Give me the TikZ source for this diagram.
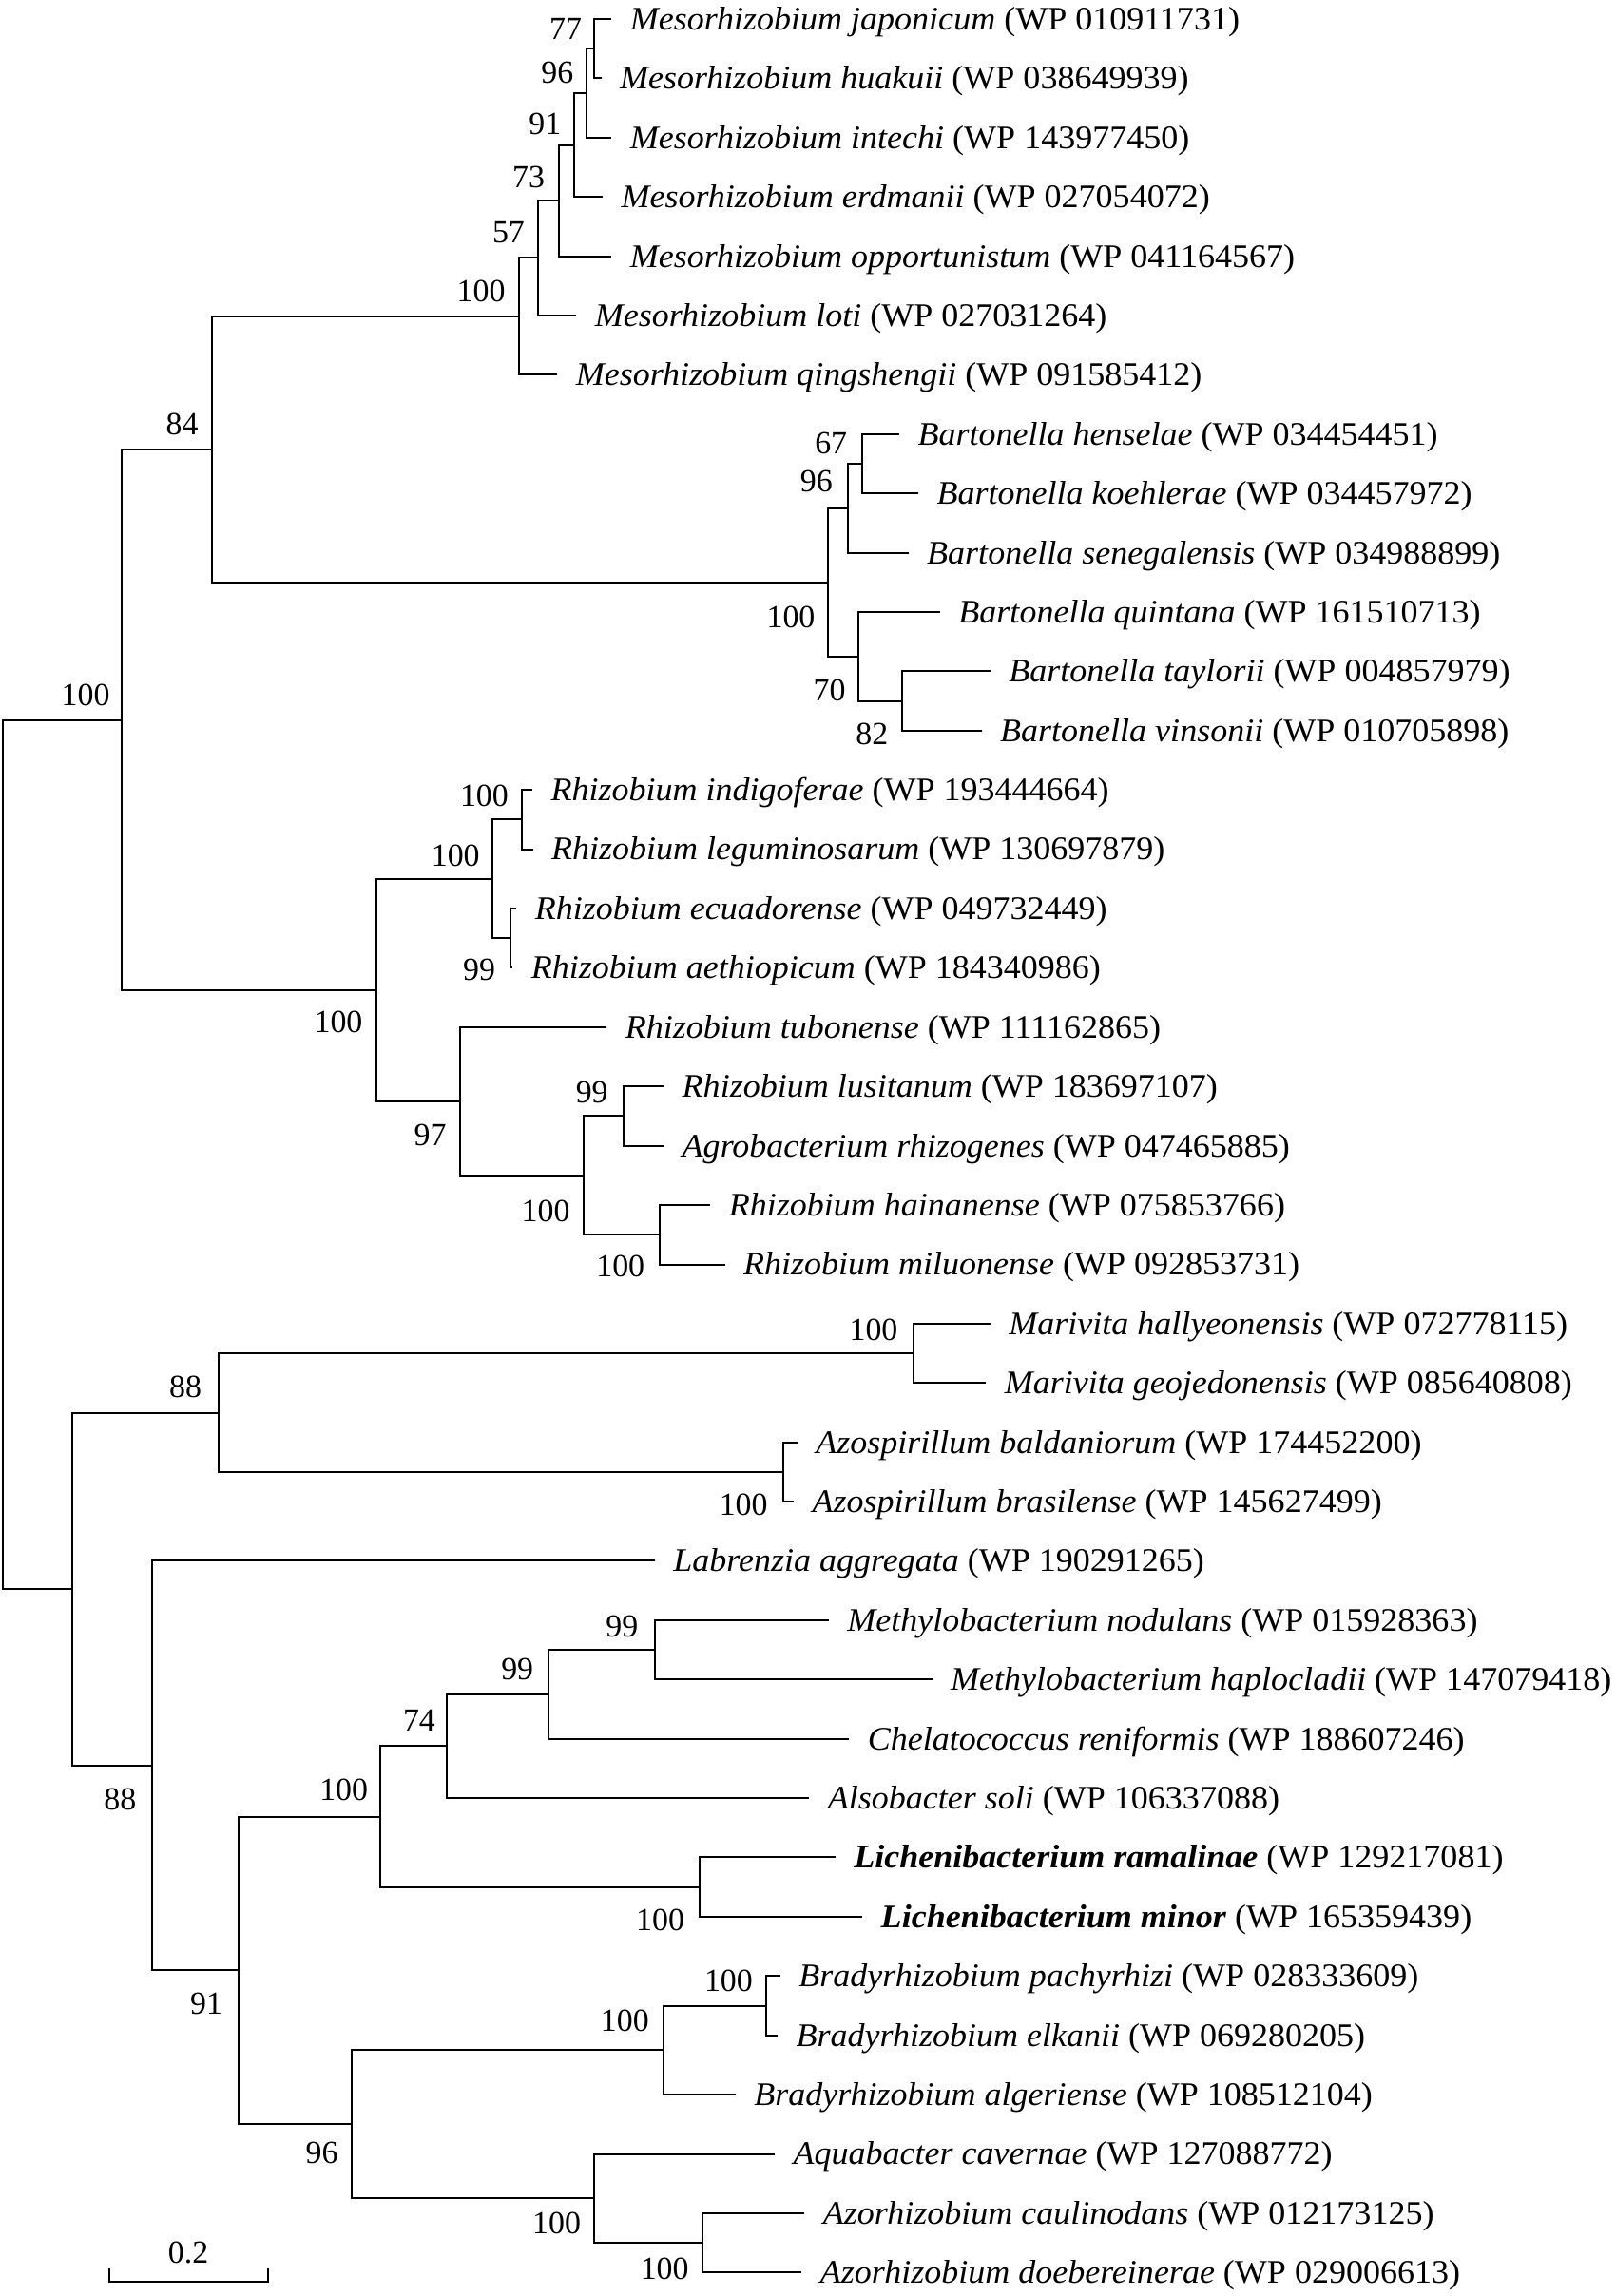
\documentclass[tikz,border=0pt]{standalone}
\usepackage{fontspec}
\setmainfont{Liberation Serif}
\newfontfamily\taxafont{Liberation Serif}[FakeStretch=1.04]

\begin{document}
\begin{tikzpicture}[x=0.5pt, y=-0.5pt, line width=0.65pt,
    taxon/.style={anchor=base west, inner sep=0pt, font=\taxafont\fontsize{11.25}{13}\selectfont},
    boot/.style={anchor=center, inner sep=0pt, font=\fontsize{11}{13}\selectfont}]
      \useasboundingbox (0,0) rectangle (1104,1569.8);

      % leaf ends
      \coordinate (l0) at (418, 13.0);
      \coordinate (l1) at (411, 53.5);
      \coordinate (l2) at (418, 94.1);
      \coordinate (l3) at (412, 134.6);
      \coordinate (l4) at (418, 175.2);
      \coordinate (l5) at (394, 215.7);
      \coordinate (l6) at (381, 256.3);
      \coordinate (l7) at (614.7, 296.8);
      \coordinate (l8) at (627.7, 337.4);
      \coordinate (l9) at (621, 377.9);
      \coordinate (l10) at (642.6, 418.5);
      \coordinate (l11) at (677, 459.0);
      \coordinate (l12) at (671, 499.6);
      \coordinate (l13) at (363.9, 540.1);
      \coordinate (l14) at (364.3, 580.6);
      \coordinate (l15) at (353.1, 621.2);
      \coordinate (l16) at (350.4, 661.7);
      \coordinate (l17) at (414.8, 702.3);
      \coordinate (l18) at (453.7, 742.8);
      \coordinate (l19) at (453.7, 783.4);
      \coordinate (l20) at (485.6, 823.9);
      \coordinate (l21) at (495.5, 864.5);
      \coordinate (l22) at (677, 905.0);
      \coordinate (l23) at (674, 945.6);
      \coordinate (l24) at (545, 986.1);
      \coordinate (l25) at (542.6, 1026.7);
      \coordinate (l26) at (447.6, 1067.2);
      \coordinate (l27) at (566.5, 1107.7);
      \coordinate (l28) at (637.2, 1148.3);
      \coordinate (l29) at (580.5, 1188.8);
      \coordinate (l30) at (553.2, 1229.4);
      \coordinate (l31) at (571, 1269.9);
      \coordinate (l32) at (589.5, 1310.5);
      \coordinate (l33) at (533.4, 1351.0);
      \coordinate (l34) at (531.6, 1391.6);
      \coordinate (l35) at (502.8, 1432.1);
      \coordinate (l36) at (529.6, 1472.7);
      \coordinate (l37) at (550, 1513.2);
      \coordinate (l38) at (548, 1553.7);

      % inner nodes
      \coordinate (m77) at (406, 33.25);
      \coordinate (m96) at (401, 63.7);
      \coordinate (m91) at (392.5, 99.1);
      \coordinate (m73) at (382, 137.2);
      \coordinate (m57) at (368, 176.4);
      \coordinate (mes) at (355, 216.4);
      \coordinate (b67) at (589, 317.1);
      \coordinate (b96) at (579.6, 347.5);
      \coordinate (b82) at (616.6, 479.3);
      \coordinate (b70) at (586.6, 448.9);
      \coordinate (bar) at (566, 398.2);
      \coordinate (mb) at (145.2, 307.3);
      \coordinate (rc) at (356.7, 560.4);
      \coordinate (r99) at (349.1, 641.5);
      \coordinate (rab) at (336.8, 601);
      \coordinate (re) at (451.1, 844.2);
      \coordinate (rl) at (426.2, 763.1);
      \coordinate (rd) at (399, 803.7);
      \coordinate (r97) at (314.5, 753);
      \coordinate (rhi) at (257.1, 677);
      \coordinate (up) at (83.4, 492.2);
      \coordinate (mar) at (624.5, 925.3);
      \coordinate (azo) at (535.6, 1006.4);
      \coordinate (ma) at (149.5, 965.85);
      \coordinate (met) at (447.6, 1128.0);
      \coordinate (mc) at (374.9, 1158.4);
      \coordinate (mca) at (305.1, 1193.9);
      \coordinate (lic) at (478.2, 1290.2);
      \coordinate (mcl) at (260, 1242.05);
      \coordinate (bra) at (524, 1371.3);
      \coordinate (brad) at (453.2, 1401.7);
      \coordinate (azr) at (480.4, 1533.45);
      \coordinate (aqa) at (405.8, 1503.1);
      \coordinate (bq) at (240.6, 1452.4);
      \coordinate (low) at (163.4, 1347.2);
      \coordinate (lab) at (103.7, 1207.2);
      \coordinate (dn) at (49.4, 1086.5);
      \coordinate (root) at (1.7, 789.35);

      % branches
      \draw (m77) |- (l0);
      \draw (m77) |- (l1);
      \draw (m96) |- (m77);
      \draw (m96) |- (l2);
      \draw (m91) |- (m96);
      \draw (m91) |- (l3);
      \draw (m73) |- (m91);
      \draw (m73) |- (l4);
      \draw (m57) |- (m73);
      \draw (m57) |- (l5);
      \draw (mes) |- (m57);
      \draw (mes) |- (l6);

      \draw (b67) |- (l7);
      \draw (b67) |- (l8);
      \draw (b96) |- (b67);
      \draw (b96) |- (l9);
      \draw (b82) |- (l11);
      \draw (b82) |- (l12);
      \draw (b70) |- (l10);
      \draw (b70) |- (b82);
      \draw (bar) |- (b96);
      \draw (bar) |- (b70);
      \draw (mb) |- (mes);
      \draw (mb) |- (bar);

      \draw (rc) |- (l13);
      \draw (rc) |- (l14);
      \draw (r99) |- (l15);
      \draw (r99) |- (l16);
      \draw (rab) |- (rc);
      \draw (rab) |- (r99);
      \draw (rl) |- (l18);
      \draw (rl) |- (l19);
      \draw (re) |- (l20);
      \draw (re) |- (l21);
      \draw (rd) |- (rl);
      \draw (rd) |- (re);
      \draw (r97) |- (l17);
      \draw (r97) |- (rd);
      \draw (rhi) |- (rab);
      \draw (rhi) |- (r97);
      \draw (up) |- (mb);
      \draw (up) |- (rhi);

      \draw (mar) |- (l22);
      \draw (mar) |- (l23);
      \draw (azo) |- (l24);
      \draw (azo) |- (l25);
      \draw (ma) |- (mar);
      \draw (ma) |- (azo);

      \draw (met) |- (l27);
      \draw (met) |- (l28);
      \draw (mc) |- (met);
      \draw (mc) |- (l29);
      \draw (mca) |- (mc);
      \draw (mca) |- (l30);
      \draw (lic) |- (l31);
      \draw (lic) |- (l32);
      \draw (mcl) |- (mca);
      \draw (mcl) |- (lic);
      \draw (bra) |- (l33);
      \draw (bra) |- (l34);
      \draw (brad) |- (bra);
      \draw (brad) |- (l35);
      \draw (azr) |- (l37);
      \draw (azr) |- (l38);
      \draw (aqa) |- (l36);
      \draw (aqa) |- (azr);
      \draw (bq) |- (brad);
      \draw (bq) |- (aqa);
      \draw (low) |- (mcl);
      \draw (low) |- (bq);
      \draw (lab) |- (l26);
      \draw (lab) |- (low);
      \draw (dn) |- (ma);
      \draw (dn) |- (lab);
      \draw (root) |- (up);
      \draw (root) |- (dn);

      % taxa
      \node[taxon] (t0) at ([xshift=6pt, yshift=-3.7pt]l0) {\textit{Mesorhizobium japonicum} (WP 010911731)};
      \node[taxon] (t1) at ([xshift=6pt, yshift=-3.7pt]l1) {\textit{Mesorhizobium huakuii} (WP 038649939)};
      \node[taxon] (t2) at ([xshift=6pt, yshift=-3.7pt]l2) {\textit{Mesorhizobium intechi} (WP 143977450)};
      \node[taxon] (t3) at ([xshift=6pt, yshift=-3.7pt]l3) {\textit{Mesorhizobium erdmanii} (WP 027054072)};
      \node[taxon] (t4) at ([xshift=6pt, yshift=-3.7pt]l4) {\textit{Mesorhizobium opportunistum} (WP 041164567)};
      \node[taxon] (t5) at ([xshift=6pt, yshift=-3.7pt]l5) {\textit{Mesorhizobium loti} (WP 027031264)};
      \node[taxon] (t6) at ([xshift=6pt, yshift=-3.7pt]l6) {\textit{Mesorhizobium qingshengii} (WP 091585412)};
      \node[taxon] (t7) at ([xshift=6pt, yshift=-3.7pt]l7) {\textit{Bartonella henselae} (WP 034454451)};
      \node[taxon] (t8) at ([xshift=6pt, yshift=-3.7pt]l8) {\textit{Bartonella koehlerae} (WP 034457972)};
      \node[taxon] (t9) at ([xshift=6pt, yshift=-3.7pt]l9) {\textit{Bartonella senegalensis} (WP 034988899)};
      \node[taxon] (t10) at ([xshift=6pt, yshift=-3.7pt]l10) {\textit{Bartonella quintana} (WP 161510713)};
      \node[taxon] (t11) at ([xshift=6pt, yshift=-3.7pt]l11) {\textit{Bartonella taylorii} (WP 004857979)};
      \node[taxon] (t12) at ([xshift=6pt, yshift=-3.7pt]l12) {\textit{Bartonella vinsonii} (WP 010705898)};
      \node[taxon] (t13) at ([xshift=6pt, yshift=-3.7pt]l13) {\textit{Rhizobium indigoferae} (WP 193444664)};
      \node[taxon] (t14) at ([xshift=6pt, yshift=-3.7pt]l14) {\textit{Rhizobium leguminosarum} (WP 130697879)};
      \node[taxon] (t15) at ([xshift=6pt, yshift=-3.7pt]l15) {\textit{Rhizobium ecuadorense} (WP 049732449)};
      \node[taxon] (t16) at ([xshift=6pt, yshift=-3.7pt]l16) {\textit{Rhizobium aethiopicum} (WP 184340986)};
      \node[taxon] (t17) at ([xshift=6pt, yshift=-3.7pt]l17) {\textit{Rhizobium tubonense} (WP 111162865)};
      \node[taxon] (t18) at ([xshift=6pt, yshift=-3.7pt]l18) {\textit{Rhizobium lusitanum} (WP 183697107)};
      \node[taxon] (t19) at ([xshift=6pt, yshift=-3.7pt]l19) {\textit{Agrobacterium rhizogenes} (WP 047465885)};
      \node[taxon] (t20) at ([xshift=6pt, yshift=-3.7pt]l20) {\textit{Rhizobium hainanense} (WP 075853766)};
      \node[taxon] (t21) at ([xshift=6pt, yshift=-3.7pt]l21) {\textit{Rhizobium miluonense} (WP 092853731)};
      \node[taxon] (t22) at ([xshift=6pt, yshift=-3.7pt]l22) {\textit{Marivita hallyeonensis} (WP 072778115)};
      \node[taxon] (t23) at ([xshift=6pt, yshift=-3.7pt]l23) {\textit{Marivita geojedonensis} (WP 085640808)};
      \node[taxon] (t24) at ([xshift=6pt, yshift=-3.7pt]l24) {\textit{Azospirillum baldaniorum} (WP 174452200)};
      \node[taxon] (t25) at ([xshift=6pt, yshift=-3.7pt]l25) {\textit{Azospirillum brasilense} (WP 145627499)};
      \node[taxon] (t26) at ([xshift=6pt, yshift=-3.7pt]l26) {\textit{Labrenzia aggregata} (WP 190291265)};
      \node[taxon] (t27) at ([xshift=6pt, yshift=-3.7pt]l27) {\textit{Methylobacterium nodulans} (WP 015928363)};
      \node[taxon] (t28) at ([xshift=6pt, yshift=-3.7pt]l28) {\textit{Methylobacterium haplocladii} (WP 147079418)};
      \node[taxon] (t29) at ([xshift=6pt, yshift=-3.7pt]l29) {\textit{Chelatococcus reniformis} (WP 188607246)};
      \node[taxon] (t30) at ([xshift=6pt, yshift=-3.7pt]l30) {\textit{Alsobacter soli} (WP 106337088)};
      \node[taxon] (t31) at ([xshift=6pt, yshift=-3.7pt]l31) {\textbf{\textit{Lichenibacterium ramalinae}} (WP 129217081)};
      \node[taxon] (t32) at ([xshift=6pt, yshift=-3.7pt]l32) {\textbf{\textit{Lichenibacterium minor}} (WP 165359439)};
      \node[taxon] (t33) at ([xshift=6pt, yshift=-3.7pt]l33) {\textit{Bradyrhizobium pachyrhizi} (WP 028333609)};
      \node[taxon] (t34) at ([xshift=6pt, yshift=-3.7pt]l34) {\textit{Bradyrhizobium elkanii} (WP 069280205)};
      \node[taxon] (t35) at ([xshift=6pt, yshift=-3.7pt]l35) {\textit{Bradyrhizobium algeriense} (WP 108512104)};
      \node[taxon] (t36) at ([xshift=6pt, yshift=-3.7pt]l36) {\textit{Aquabacter cavernae} (WP 127088772)};
      \node[taxon] (t37) at ([xshift=6pt, yshift=-3.7pt]l37) {\textit{Azorhizobium caulinodans} (WP 012173125)};
      \node[taxon] (t38) at ([xshift=6pt, yshift=-3.7pt]l38) {\textit{Azorhizobium doebereinerae} (WP 029006613)};

      % bootstrap values
      \node[boot] (v77) at (386.6, 19.5) {77};
      \node[boot] (v96) at (381, 49.8) {96};
      \node[boot] (v91) at (372.5, 84.5) {91};
      \node[boot] (v73) at (361.3, 121.3) {73};
      \node[boot] (v57) at (347.6, 159) {57};
      \node[boot] (vmes) at (328.8, 199.3) {100};
      \node[boot] (vup) at (58.5, 475.4) {100};
      \node[boot] (vmb) at (124.5, 290) {84};
      \node[boot] (vb67) at (568, 303) {67};
      \node[boot] (vb96) at (558, 329) {96};
      \node[boot] (vbar) at (540.6, 422) {100};
      \node[boot] (vb70) at (567, 472) {70};
      \node[boot] (vb82) at (596, 502) {82};
      \node[boot] (vrc) at (331, 544) {100};
      \node[boot] (vrab) at (311.4, 585) {100};
      \node[boot] (vr99) at (327.5, 663) {99};
      \node[boot] (vrhi) at (231.3, 699) {100};
      \node[boot] (vr97) at (294.1, 776) {97};
      \node[boot] (vrl) at (404.6, 747) {99};
      \node[boot] (vrd) at (373, 828) {100};
      \node[boot] (vre) at (424.1, 866) {100};
      \node[boot] (vma) at (126.7, 948.5) {88};
      \node[boot] (vmar) at (597.1, 909.5) {100};
      \node[boot] (vazo) at (508.2, 1029) {100};
      \node[boot] (vlab) at (82.1, 1230.3) {88};
      \node[boot] (vmcl) at (235, 1223.7) {100};
      \node[boot] (vmca) at (286.5, 1176.5) {74};
      \node[boot] (vmc) at (353.6, 1141.4) {99};
      \node[boot] (vmet) at (425.2, 1112.2) {99};
      \node[boot] (vlic) at (451.3, 1312.5) {100};
      \node[boot] (vlow) at (141, 1369.9) {91};
      \node[boot] (vbq) at (220, 1472.1) {96};
      \node[boot] (vbrad) at (427.1, 1381.6) {100};
      \node[boot] (vbra) at (498, 1354.5) {100};
      \node[boot] (vaqa) at (380.5, 1520) {100};
      \node[boot] (vazr) at (454.3, 1551.3) {100};

      % scale bar
      \coordinate (s0) at (74.6, 1560);
      \coordinate (s1) at (183.5, 1560);
      \draw ([yshift=4.5pt]s0) -- (s0) -- (s1) -- ([yshift=4.5pt]s1);
      \node[boot] (scale) at (128.7, 1540.3) {0.2};
\end{tikzpicture}
\end{document}
